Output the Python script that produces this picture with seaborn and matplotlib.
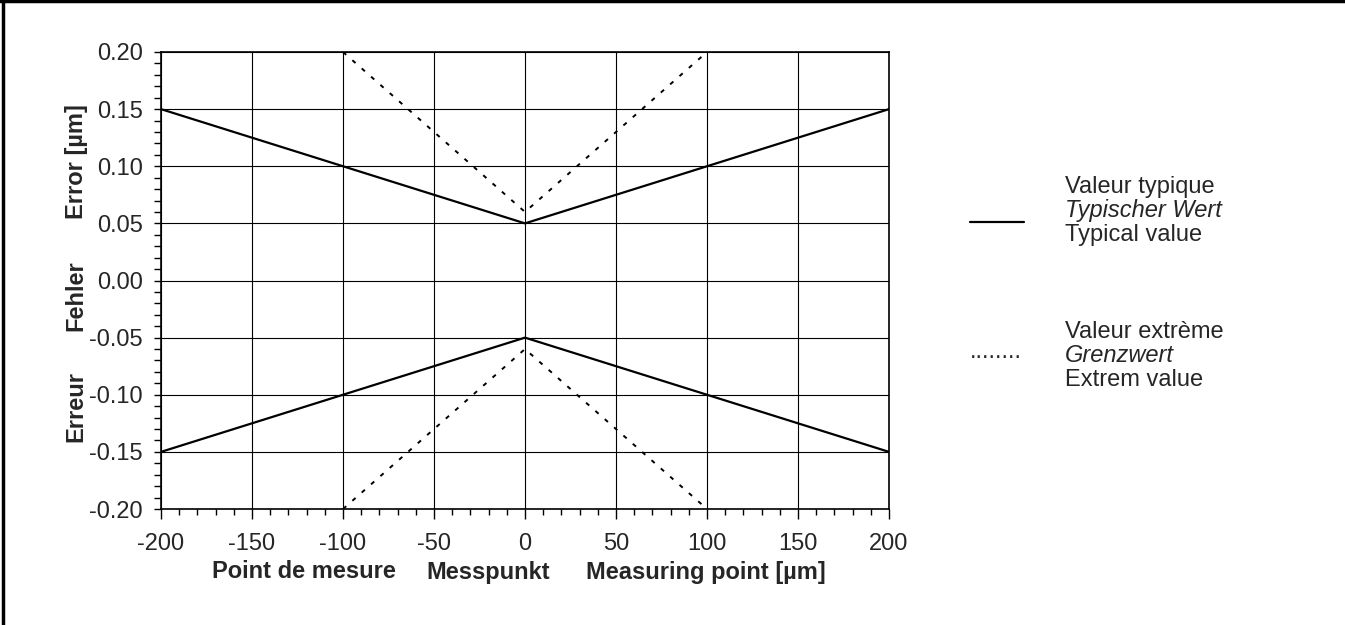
import matplotlib
matplotlib.use("Agg")
import matplotlib.pyplot as plt
from matplotlib.lines import Line2D
from matplotlib.ticker import MultipleLocator
import pandas as pd
import seaborn as sns

# -----------------------------
# Data
# -----------------------------
x_typical = [-200, 0, 200]
typical_upper = [0.15, 0.05, 0.15]
typical_lower = [-0.15, -0.05, -0.15]

x_extreme = [-100, 0, 100]
extreme_upper = [0.20, 0.06, 0.20]
extreme_lower = [-0.20, -0.06, -0.20]

x_ticks = [-200, -150, -100, -50, 0, 50, 100, 150, 200]
y_ticks = [-0.20, -0.15, -0.10, -0.05, 0.00, 0.05, 0.10, 0.15, 0.20]

legend_typical = ["Valeur typique", "Typischer Wert", "Typical value"]
legend_extreme = ["Valeur extrème", "Grenzwert", "Extrem value"]

sns.set_style("white")
plt.rcParams['font.family'] = ['Liberation Sans', 'DejaVu Sans']

W, H = 1345, 625
fig = plt.figure(figsize=(13.45, 6.25), dpi=100)
ax = fig.add_axes([161 / W, 1 - 509 / H, 728 / W, 457 / H])

df_typ = pd.DataFrame({"x": x_typical, "up": typical_upper, "lo": typical_lower})
df_ext = pd.DataFrame({"x": x_extreme, "up": extreme_upper, "lo": extreme_lower})

for col in ["up", "lo"]:
    sns.lineplot(data=df_typ, x="x", y=col, ax=ax, color="black", lw=1.6,
                 sort=False, zorder=3)
    sns.lineplot(data=df_ext, x="x", y=col, ax=ax, color="black", lw=1.4,
                 sort=False, zorder=3, linestyle=(0, (2.2, 4.2)))

ax.set_xlim(-200, 200)
ax.set_ylim(-0.20, 0.20)
ax.set_xticks(x_ticks)
ax.set_yticks(y_ticks)
ax.set_xticklabels([f"{v}" for v in x_ticks])
ax.set_yticklabels([f"{v:.2f}" for v in y_ticks])
ax.xaxis.set_minor_locator(MultipleLocator(10))
ax.yaxis.set_minor_locator(MultipleLocator(0.01))
ax.tick_params(axis="both", which="both", direction="out", width=1,
               color="black", labelsize=17, bottom=True, left=True)
ax.tick_params(axis="x", which="major", length=7, pad=10)
ax.tick_params(axis="x", which="minor", length=4.5)
ax.tick_params(axis="y", which="both", length=5, pad=8)
ax.grid(True, which="major", color="black", lw=0.8)
ax.set_axisbelow(True)
for s in ax.spines.values():
    s.set_color("black")
    s.set_linewidth(1.2)
ax.set_xlabel("")
ax.set_ylabel("")

# axis titles (three languages)
for txt, xc in [("Point de mesure", 304), ("Messpunkt", 488), ("Measuring point [µm]", 706)]:
    fig.text(xc / W, 1 - 572 / H, txt, ha="center", va="center",
             fontsize=17, fontweight="bold")
for txt, yc in [("Error [µm]", 162), ("Fehler", 296), ("Erreur", 406)]:
    fig.text(76 / W, 1 - yc / H, txt, ha="center", va="center",
             fontsize=17, fontweight="bold", rotation=90)

# legend drawn by hand
fig.add_artist(Line2D([970 / W, 1024 / W], [1 - 222 / H] * 2,
                      color="black", lw=1.6))
fig.text(970 / W, 1 - 358 / H, "........", ha="left", va="baseline", fontsize=17)
for i, txt in enumerate(legend_typical):
    fig.text(1065 / W, 1 - (187 + 24 * i) / H, txt, ha="left", va="center",
             fontsize=17, style="italic" if i == 1 else "normal")
for i, txt in enumerate(legend_extreme):
    fig.text(1065 / W, 1 - (332 + 24 * i) / H, txt, ha="left", va="center",
             fontsize=17, style="italic" if i == 1 else "normal")

# outer frame (left and top edges visible)
fig.add_artist(Line2D([3 / W, 3 / W], [0, 1], color="black", lw=2.5))
fig.add_artist(Line2D([0, 1], [1 - 1 / H, 1 - 1 / H], color="black", lw=2.5))

fig.savefig("out.png", dpi=100)
